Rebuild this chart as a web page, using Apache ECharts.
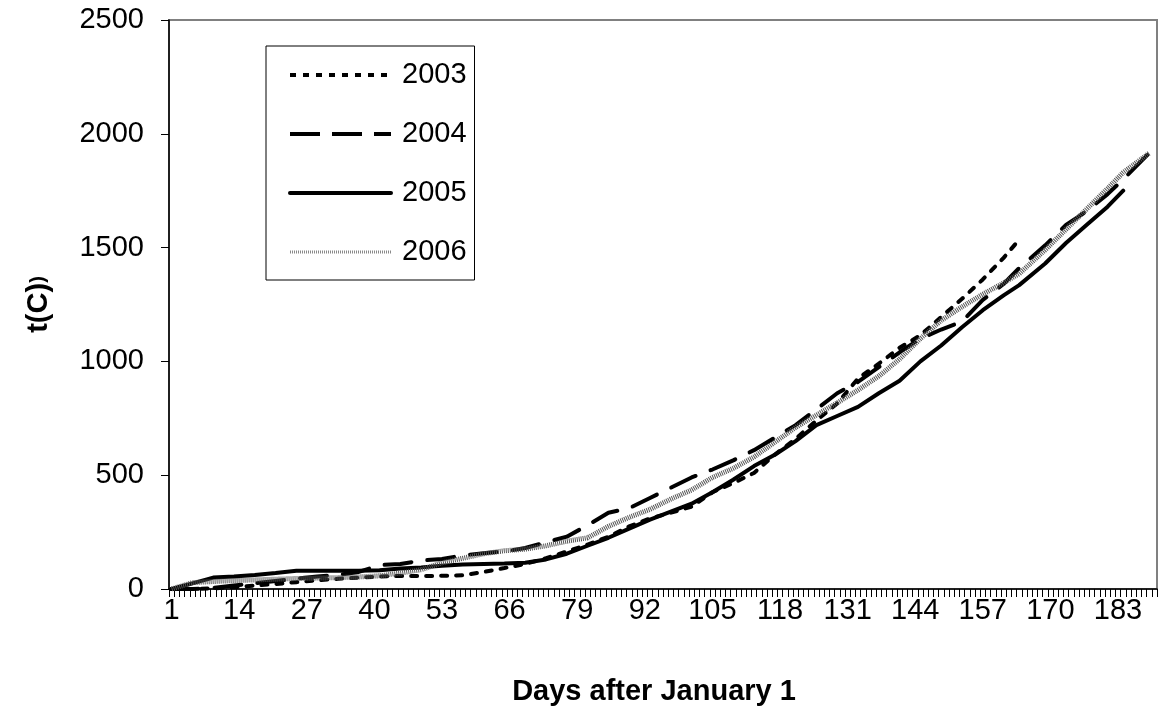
<!DOCTYPE html>
<html>
<head>
<meta charset="utf-8">
<script src="https://cdn.jsdelivr.net/npm/echarts@6/dist/echarts.min.js"></script>
<style>
    html, body { margin: 0; padding: 0; background: #fff; }
    #container { width: 1166px; height: 713px; }
</style>
</head>
<body>
<div id="container"></div>
<script>
    // x axis: days 1..190, a label every 13 days
    var dayCount = 190;
    var categories = [];
    for (var i = 1; i <= dayCount; i++) categories.push(String(i));

    var days = [1, 5, 9, 13, 17, 21, 25, 29, 33, 37, 41, 45, 49, 53, 57, 61, 65, 69, 73, 77,
        81, 85, 89, 93, 97, 101, 105, 109, 113, 117, 121, 125, 129, 133, 137, 141, 145, 149, 153, 157,
        161, 164, 169, 173, 177, 181, 184, 189];

    var t2003 = [0, 0, 3, 8, 15, 22, 30, 38, 45, 50, 55, 57, 57, 58, 60, 75, 92, 110, 135, 165,
        195, 230, 275, 310, 335, 362, 425, 465, 510, 590, 660, 740, 815, 925, 990, 1060, 1115, 1195, 1275, 1360,
        1455, 1535];
    var t2004 = [0, 0, 5, 15, 25, 35, 45, 55, 62, 75, 105, 110, 125, 132, 148, 157, 165, 180, 205, 230,
        280, 335, 355, 400, 445, 490, 525, 565, 610, 665, 720, 790, 860, 910, 975, 1040, 1100, 1140, 1175, 1270,
        1340, 1410, 1510, 1600, 1660, 1735, 1800, 1915];
    var t2005 = [0, 25, 50, 55, 62, 70, 80, 80, 80, 80, 82, 90, 95, 102, 108, 110, 112, 115, 130, 155,
        190, 225, 265, 305, 340, 375, 425, 480, 540, 590, 650, 720, 760, 800, 860, 915, 1000, 1070, 1150, 1225,
        1290, 1335, 1430, 1520, 1600, 1680, 1750];
    var t2006 = [0, 28, 33, 37, 40, 43, 46, 48, 50, 53, 58, 70, 85, 115, 135, 155, 168, 175, 190, 210,
        225, 275, 315, 350, 395, 435, 490, 530, 580, 645, 710, 764, 818, 874, 935, 1010, 1100, 1180, 1240, 1295,
        1345, 1385, 1490, 1580, 1670, 1760, 1830, 1915];

    var yTicks = [0, 500, 1000, 1500, 2000, 2500];

    function pairs(vals) {
        var out = [];
        vals.forEach(function (v, k) {
            out.push([days[k] - 1, v]);
        });
        return out;
    }

    var style2003 = {color: '#000', width: 4, type: [6, 9], cap: 'round'};
    var style2004 = {color: '#000', width: 4, type: [27, 16], cap: 'round'};
    var style2005 = {color: '#000', width: 4, cap: 'round'};
    var style2006 = {color: '#555', width: 5, type: [1, 1]};

    var font = 'Liberation Sans, Arial, sans-serif';
    var chart = echarts.init(document.getElementById('container'));
    chart.setOption({
        animation: false,
        backgroundColor: '#fff',
        grid: {left: 169, right: 9, top: 20, bottom: 124, show: true, borderColor: '#808080', borderWidth: 2},
        legend: {
            orient: 'vertical', left: 266, top: 46,
            padding: [14, 8, 13, 22],
            itemWidth: 101, itemHeight: 30, itemGap: 29,
            borderColor: '#000', borderWidth: 1,
            itemStyle: {opacity: 0},
            textStyle: {fontFamily: font, fontSize: 29, color: '#000', lineHeight: 30, padding: [0, 0, 0, 6]},
            data: [
                {name: '2003', lineStyle: {color: '#000', width: 4, type: [6, 7], cap: 'butt'}},
                {name: '2004', lineStyle: {color: '#000', width: 4, type: [30, 12], cap: 'butt'}},
                {name: '2005', lineStyle: {color: '#000', width: 4}},
                {name: '2006', lineStyle: {color: '#8a8a8a', width: 3, type: [1, 1]}}
            ]
        },
        xAxis: [{
            type: 'category',
            data: categories,
            boundaryGap: true,
            name: 'Days after January 1',
            nameLocation: 'middle',
            nameGap: 88,
            nameTextStyle: {fontFamily: font, fontSize: 29, fontWeight: 'bold', color: '#000', padding: [0, 18, 0, 0]},
            axisLine: {show: true, lineStyle: {color: '#000', width: 1.5}},
            axisTick: {show: true, inside: false, interval: 0, alignWithLabel: false, length: 8, lineStyle: {color: '#000', width: 1}},
            axisLabel: {interval: 12, margin: 7, fontFamily: font, fontSize: 29, color: '#000'},
            splitLine: {show: false}
        }],
        yAxis: [{
            type: 'value',
            min: yTicks[0], max: yTicks[yTicks.length - 1], interval: 500,
            name: '{a|t(C)}{b|)}',
            nameLocation: 'middle',
            nameGap: 116,
            nameRotate: 90,
            nameTextStyle: {
                color: '#000',
                rich: {
                    a: {fontFamily: font, fontSize: 29, fontWeight: 'bold', color: '#000'},
                    b: {fontFamily: font, fontSize: 20, fontWeight: 'bold', color: '#000'}
                }
            },
            axisLine: {show: true, lineStyle: {color: '#000', width: 1.5}},
            axisTick: {show: true, inside: false, length: 8, lineStyle: {color: '#000', width: 1}},
            axisLabel: {
                margin: 25, fontFamily: font, fontSize: 29, color: '#000',
                formatter: function (v) { return String(v); }
            },
            splitLine: {show: false}
        }],
        series: [
            {name: '2003', type: 'line', symbol: 'none', data: pairs(t2003), lineStyle: style2003},
            {name: '2004', type: 'line', symbol: 'none', data: pairs(t2004), lineStyle: style2004},
            {name: '2005', type: 'line', symbol: 'none', data: pairs(t2005), lineStyle: style2005},
            {name: '2006', type: 'line', symbol: 'none', data: pairs(t2006), lineStyle: style2006}
        ]
    });
</script>
</body>
</html>
